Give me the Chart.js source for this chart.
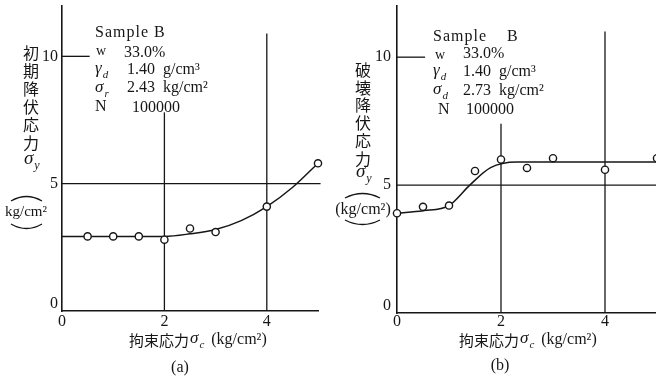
<!DOCTYPE html>
<html>
<head>
<meta charset="utf-8">
<script src="https://cdn.jsdelivr.net/npm/chart.js@4/dist/chart.umd.min.js"></script>
<style>
  html, body { margin: 0; padding: 0; background: #fff; overflow: hidden; width: 656px; height: 386px; }
  #wrap { position: relative; width: 656px; height: 386px; overflow: hidden; }
  canvas { position: absolute; top: 0; }
  #chartA { left: 0; }
  #chartB { left: 330px; }
</style>
</head>
<body>
<div id="wrap">
  <canvas id="chartA" width="330" height="386"></canvas>
  <canvas id="chartB" width="340" height="386"></canvas>
</div>
<script>
// (a) initial yield stress vs confining stress
const sigmaC_a = [0.5, 1.0, 1.5, 2.0, 2.5, 3.0, 4.0, 5.0];
const yieldA = [2.93, 2.93, 2.93, 2.8, 3.24, 3.1, 4.1, 5.8];
const curveX_a = [0, 1, 2, 2.5, 3, 3.5, 4, 4.5, 5];
const curveY_a = [2.93, 2.93, 2.93, 3.03, 3.2, 3.55, 4.1, 4.85, 5.8];

// (b) failure yield stress vs confining stress
const sigmaC_b = [0, 0.5, 1.0, 1.5, 2.0, 2.5, 3.0, 4.0, 5.0];
const yieldB = [3.9, 4.15, 4.2, 5.55, 6.0, 5.67, 6.05, 5.6, 6.05];
const curveX_b = [0, 0.5, 1.0, 1.4, 1.8, 2.3, 3, 4, 5];
const curveY_b = [3.9, 4.0, 4.2, 5.0, 5.68, 5.9, 5.9, 5.9, 5.9];

const xTicks = [0, 2, 4];
const xTickLabels = ['0', '2', '4'];
const yTicks = [0, 5, 10];
const yTickLabels = ['0', '5', '10'];

// partial grid lines: vertical ones start at these heights
const vGridX = [2, 4];
const vGridTop_a = [7.8, 10.9];
const vGridTop_b = [7.4, 11.0];

const INK = '#161616';
const SERIF = '"Liberation Serif", "DejaVu Serif", serif';
const CJK = '"Noto Sans CJK JP", sans-serif';

const pairs = (xs, ys) => xs.map((x, i) => ({ x: x, y: ys[i] }));

function datasets(px, py, cx, cy) {
  return [
    {
      data: pairs(px, py),
      pointRadius: 3.6,
      pointBackgroundColor: '#fff',
      pointBorderColor: INK,
      pointBorderWidth: 1.4,
      clip: false,
    },
    {
      data: pairs(cx, cy),
      showLine: true,
      pointRadius: 0,
      borderColor: INK,
      borderWidth: 1.5,
      cubicInterpolationMode: 'monotone',
      fill: false,
      clip: false,
    },
  ];
}

function axisOpts(max) {
  return {
    type: 'linear',
    min: 0,
    max: max,
    ticks: { display: false },
    grid: { display: false, drawTicks: false },
    border: { display: true, color: INK, width: 1.6 },
  };
}

function txt(ctx, s, x, y, font, align) {
  ctx.font = font;
  ctx.textAlign = align || 'left';
  ctx.fillText(s, x, y);
  ctx.textAlign = 'left';
  return ctx.measureText(s).width;
}

// italic greek symbol with subscript
function sym(ctx, ch, sub, x, y, size) {
  ctx.font = 'italic ' + size + 'px ' + SERIF;
  ctx.textAlign = 'left';
  ctx.fillText(ch, x, y);
  const w = ctx.measureText(ch).width;
  ctx.font = 'italic ' + Math.round(size * 0.62) + 'px ' + SERIF;
  ctx.fillText(sub, x + w + 1, y + size * 0.38);
  return w + 1 + ctx.measureText(sub).width;
}

function gridPlugin(vTops, hRight) {
  return {
    id: 'partialGrid',
    beforeDatasetsDraw(chart) {
      const { ctx, scales: { x, y } } = chart;
      ctx.save();
      ctx.strokeStyle = INK;
      ctx.lineWidth = 1.3;
      vGridX.forEach((v, i) => {
        ctx.beginPath();
        ctx.moveTo(x.getPixelForValue(v), y.getPixelForValue(vTops[i]));
        ctx.lineTo(x.getPixelForValue(v), y.getPixelForValue(0));
        ctx.stroke();
      });
      // y = 5 line across
      ctx.beginPath();
      ctx.moveTo(x.getPixelForValue(0), y.getPixelForValue(5));
      ctx.lineTo(x.getPixelForValue(hRight), y.getPixelForValue(5));
      ctx.stroke();
      // short mark at y = 10
      ctx.beginPath();
      ctx.moveTo(x.getPixelForValue(0), y.getPixelForValue(10));
      ctx.lineTo(x.getPixelForValue(0.54), y.getPixelForValue(10));
      ctx.stroke();
      ctx.restore();
    },
  };
}

function tickLabels(ctx, x, y, dx) {
  ctx.fillStyle = INK;
  ctx.textBaseline = 'middle';
  xTicks.forEach((v, i) => {
    txt(ctx, xTickLabels[i], x.getPixelForValue(v), 322, '16px ' + SERIF, 'center');
  });
  yTicks.forEach((v, i) => {
    const yy = y.getPixelForValue(v) + (v === 0 ? -7 : 0);
    txt(ctx, yTickLabels[i], x.getPixelForValue(0) - dx, yy, '16px ' + SERIF, 'right');
  });
}

function bracketArcs(ctx, x0, x1, yTop, yBot) {
  const xm = (x0 + x1) / 2;
  ctx.strokeStyle = INK;
  ctx.lineWidth = 1.3;
  ctx.beginPath();
  ctx.moveTo(x0, yTop + 4);
  ctx.quadraticCurveTo(xm, yTop - 5, x1, yTop + 4);
  ctx.stroke();
  ctx.beginPath();
  ctx.moveTo(x0, yBot - 4);
  ctx.quadraticCurveTo(xm, yBot + 5, x1, yBot - 4);
  ctx.stroke();
}

const F = '16px ' + SERIF;

const textA = {
  id: 'textA',
  afterDraw(chart) {
    const { ctx, scales: { x, y } } = chart;
    ctx.save();
    tickLabels(ctx, x, y, 4);
    ctx.letterSpacing = '1px';
    txt(ctx, 'Sample B', 95, 33, F);
    ctx.letterSpacing = '0px';
    txt(ctx, 'w', 96, 51, '14px ' + SERIF);
    txt(ctx, '33.0%', 124, 53, F);
    sym(ctx, 'γ', 'd', 95, 69, 17);
    txt(ctx, '1.40  g/cm³', 127, 70, F);
    sym(ctx, 'σ', 'r', 95, 88, 17);
    txt(ctx, '2.43  kg/cm²', 127, 88, F);
    txt(ctx, 'N', 95, 107, F);
    txt(ctx, '100000', 132, 108, F);
    // y title
    const titleA = ['初', '期', '降', '伏', '応', '力'];
    titleA.forEach((c, i) => txt(ctx, c, 31, 53 + i * 18, '16px ' + CJK, 'center'));
    sym(ctx, 'σ', 'y', 24, 159, 19);
    txt(ctx, 'kg/cm²', 26, 212, '15px ' + SERIF, 'center');
    bracketArcs(ctx, 11, 42, 197, 228);
    // x title
    let cx = 129;
    cx += txt(ctx, '拘束応力', cx, 340, '15px ' + CJK);
    cx += sym(ctx, 'σ', 'c', cx + 1, 339, 17) + 8;
    txt(ctx, '(kg/cm²)', cx, 340, F);
    txt(ctx, '(a)', 180, 368, F, 'center');
    ctx.restore();
  },
};

const textB = {
  id: 'textB',
  afterDraw(chart) {
    const { ctx, scales: { x, y } } = chart;
    ctx.save();
    tickLabels(ctx, x, y, 6);
    ctx.letterSpacing = '1px';
    txt(ctx, 'Sample', 103, 37, F);
    txt(ctx, 'B', 177, 37, F);
    ctx.letterSpacing = '0px';
    txt(ctx, 'w', 105, 55, '14px ' + SERIF);
    txt(ctx, '33.0%', 133, 54, F);
    sym(ctx, 'γ', 'd', 103, 71, 17);
    txt(ctx, '1.40  g/cm³', 133, 72, F);
    sym(ctx, 'σ', 'd', 103, 90, 17);
    txt(ctx, '2.73  kg/cm²', 133, 91, F);
    txt(ctx, 'N', 108, 110, F);
    txt(ctx, '100000', 136, 110, F);
    const titleB = ['破', '壊', '降', '伏', '応', '力'];
    titleB.forEach((c, i) => txt(ctx, c, 33, 70 + i * 17.7, '16px ' + CJK, 'center'));
    sym(ctx, 'σ', 'y', 26, 172, 19);
    txt(ctx, '(kg/cm²)', 33, 210, F, 'center');
    bracketArcs(ctx, 15, 50, 194, 224);
    let cx = 129;
    cx += txt(ctx, '拘束応力', cx, 340, '15px ' + CJK);
    cx += sym(ctx, 'σ', 'c', cx + 1, 339, 17) + 8;
    txt(ctx, '(kg/cm²)', cx, 340, F);
    txt(ctx, '(b)', 170, 366, F, 'center');
    ctx.restore();
  },
};

function makeChart(id, ds, pad, plugins) {
  return new Chart(document.getElementById(id), {
    type: 'scatter',
    data: { datasets: ds },
    options: {
      responsive: false,
      animation: false,
      layout: { padding: pad },
      plugins: { legend: { display: false }, tooltip: { enabled: false } },
      scales: { x: axisOpts(5), y: axisOpts(12) },
    },
    plugins: plugins,
  });
}

makeChart('chartA', datasets(sigmaC_a, yieldA, curveX_a, curveY_a),
  { left: 62, right: 12, top: 4, bottom: 75 },
  [gridPlugin(vGridTop_a, 5.05), textA]);

makeChart('chartB', datasets(sigmaC_b, yieldB, curveX_b, curveY_b),
  { left: 67, right: 13, top: 6, bottom: 73 },
  [gridPlugin(vGridTop_b, 5.2), textB]);
</script>
</body>
</html>
